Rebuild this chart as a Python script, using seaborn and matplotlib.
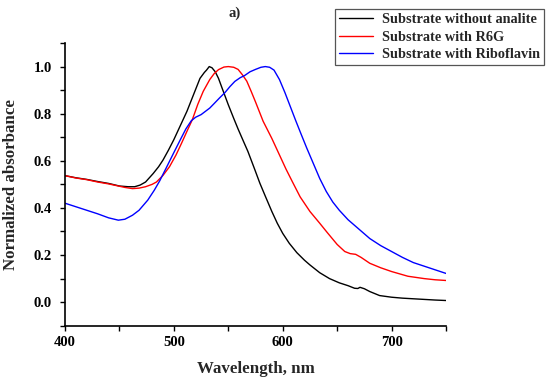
import pandas as pd
import seaborn as sns
import matplotlib.pyplot as plt
from matplotlib.ticker import MultipleLocator

# values (wavelength in nm, normalized absorbance)
wl_bare = [400, 410, 420, 430, 440, 450, 458, 464, 469, 474, 481, 486, 490, 495, 500,
           506, 512, 518, 524, 528, 530, 532.5, 535, 538, 541, 545, 550, 555, 559, 564,
           568, 574, 579, 584, 590, 595, 600, 606, 613, 620, 625, 634, 643, 652, 660,
           666, 669, 671, 675, 680, 689, 700, 710, 725, 740, 750]
abs_bare = [0.537, 0.528, 0.521, 0.512, 0.504, 0.493, 0.490, 0.490, 0.497, 0.510, 0.546,
            0.575, 0.603, 0.645, 0.690, 0.750, 0.810, 0.880, 0.950, 0.975, 0.985, 1.000,
            0.995, 0.978, 0.950, 0.900, 0.838, 0.780, 0.735, 0.682, 0.640, 0.567, 0.505,
            0.450, 0.385, 0.335, 0.292, 0.250, 0.210, 0.178, 0.158, 0.125, 0.100, 0.082,
            0.070, 0.059, 0.058, 0.063, 0.057, 0.045, 0.028, 0.021, 0.017, 0.013, 0.009,
            0.007]

wl_r6g = [400, 410, 420, 430, 440, 450, 455, 462, 468, 474, 480, 484, 490, 496, 502,
          507, 512, 517, 522, 527, 533, 537, 541, 546, 550, 555, 559, 563, 567, 571, 575,
          582, 590, 597, 603, 609, 616, 625, 634, 641, 650, 657, 662, 667, 672, 680, 690,
          700, 715, 730, 740, 750]
abs_r6g = [0.537, 0.527, 0.520, 0.510, 0.502, 0.492, 0.487, 0.482, 0.484, 0.490, 0.500,
           0.510, 0.538, 0.575, 0.625, 0.674, 0.725, 0.775, 0.840, 0.895, 0.945, 0.970,
           0.987, 0.998, 1.000, 0.997, 0.988, 0.965, 0.938, 0.895, 0.850, 0.768, 0.695,
           0.625, 0.565, 0.510, 0.447, 0.385, 0.335, 0.295, 0.245, 0.215, 0.206, 0.203,
           0.190, 0.165, 0.146, 0.130, 0.110, 0.100, 0.095, 0.092]

wl_ribo = [400, 410, 420, 430, 440, 449, 455, 462, 468, 476, 482, 487, 493, 500, 506,
           511, 516, 520, 525, 533, 537, 542, 547, 551.5, 556, 561, 565, 570, 575, 580,
           584, 588, 592, 597, 602, 607, 612, 617, 622, 628, 634, 640, 646, 652, 660,
           668, 680, 690, 698, 710, 720, 735, 750]
abs_ribo = [0.420, 0.405, 0.390, 0.375, 0.358, 0.348, 0.352, 0.369, 0.390, 0.433, 0.475,
            0.515, 0.570, 0.635, 0.690, 0.735, 0.770, 0.785, 0.796, 0.824, 0.843, 0.867,
            0.890, 0.915, 0.937, 0.953, 0.962, 0.978, 0.988, 0.997, 1.000, 0.997, 0.985,
            0.945, 0.890, 0.830, 0.770, 0.712, 0.655, 0.590, 0.525, 0.470, 0.425, 0.390,
            0.350, 0.318, 0.270, 0.240, 0.220, 0.190, 0.168, 0.145, 0.122]

labels = ["Substrate without analite", "Substrate with R6G", "Substrate with Riboflavin"]
colors = ["black", "red", "blue"]

frames = []
for lab, wl, ab in zip(labels, [wl_bare, wl_r6g, wl_ribo], [abs_bare, abs_r6g, abs_ribo]):
    frames.append(pd.DataFrame({"Wavelength": wl, "Absorbance": ab, "Sample": lab}))
df = pd.concat(frames, ignore_index=True)

sns.set_style("ticks")
plt.rcParams["font.family"] = ["Liberation Serif", "DejaVu Serif"]
plt.rcParams["font.weight"] = "bold"

fig = plt.figure(figsize=(5.5, 3.81), dpi=100)
ax = fig.add_axes([0.1182, 0.1451, 0.6927, 0.742])

sns.lineplot(data=df, x="Wavelength", y="Absorbance", hue="Sample",
             palette=dict(zip(labels, colors)), estimator=None, sort=False,
             linewidth=1.0, ax=ax)

ax.set_xlim(400, 750)
ax.set_ylim(-0.1, 1.1)
ax.xaxis.set_major_locator(MultipleLocator(100))
ax.xaxis.set_minor_locator(MultipleLocator(50))
ax.yaxis.set_major_locator(MultipleLocator(0.2))
ax.yaxis.set_minor_locator(MultipleLocator(0.1))
ax.tick_params(which="both", direction="out", length=3.5, width=1.0, colors="black")
ax.tick_params(axis="x", which="major", pad=4, labelsize=10.5)
ax.tick_params(axis="y", which="major", pad=6, labelsize=10.5)
for t in ax.get_xticklabels() + ax.get_yticklabels():
    t.set_fontweight("bold")
sns.despine(ax=ax)
for s in ["left", "bottom"]:
    ax.spines[s].set_linewidth(1.2)
    ax.spines[s].set_color("black")

ax.set_xlabel("Wavelength, nm", fontsize=12.2, fontweight="bold")
ax.xaxis.set_label_coords(0.5, -0.125)
ax.set_ylabel("")
fig.text(11 / 550, 1 - 185 / 381, "Normalized absorbance", rotation=90,
         ha="center", va="center", fontsize=12.2, fontweight="bold")

fig.text(235 / 550, 1 - 13 / 381, "a)", ha="center", va="center",
         fontsize=10.5, fontweight="bold")

leg = ax.legend(loc="upper right", bbox_to_anchor=(544 / 550, 1 - 9 / 381),
                bbox_transform=fig.transFigure, borderaxespad=0, fancybox=False,
                framealpha=1, edgecolor="#555555", fontsize=10.3,
                handlelength=2.4, handletextpad=0.6, labelspacing=0.3,
                borderpad=0.3, title=None)
leg.get_frame().set_linewidth(0.9)
for t in leg.get_texts():
    t.set_fontweight("bold")

fig.savefig("out.png", dpi=100)
